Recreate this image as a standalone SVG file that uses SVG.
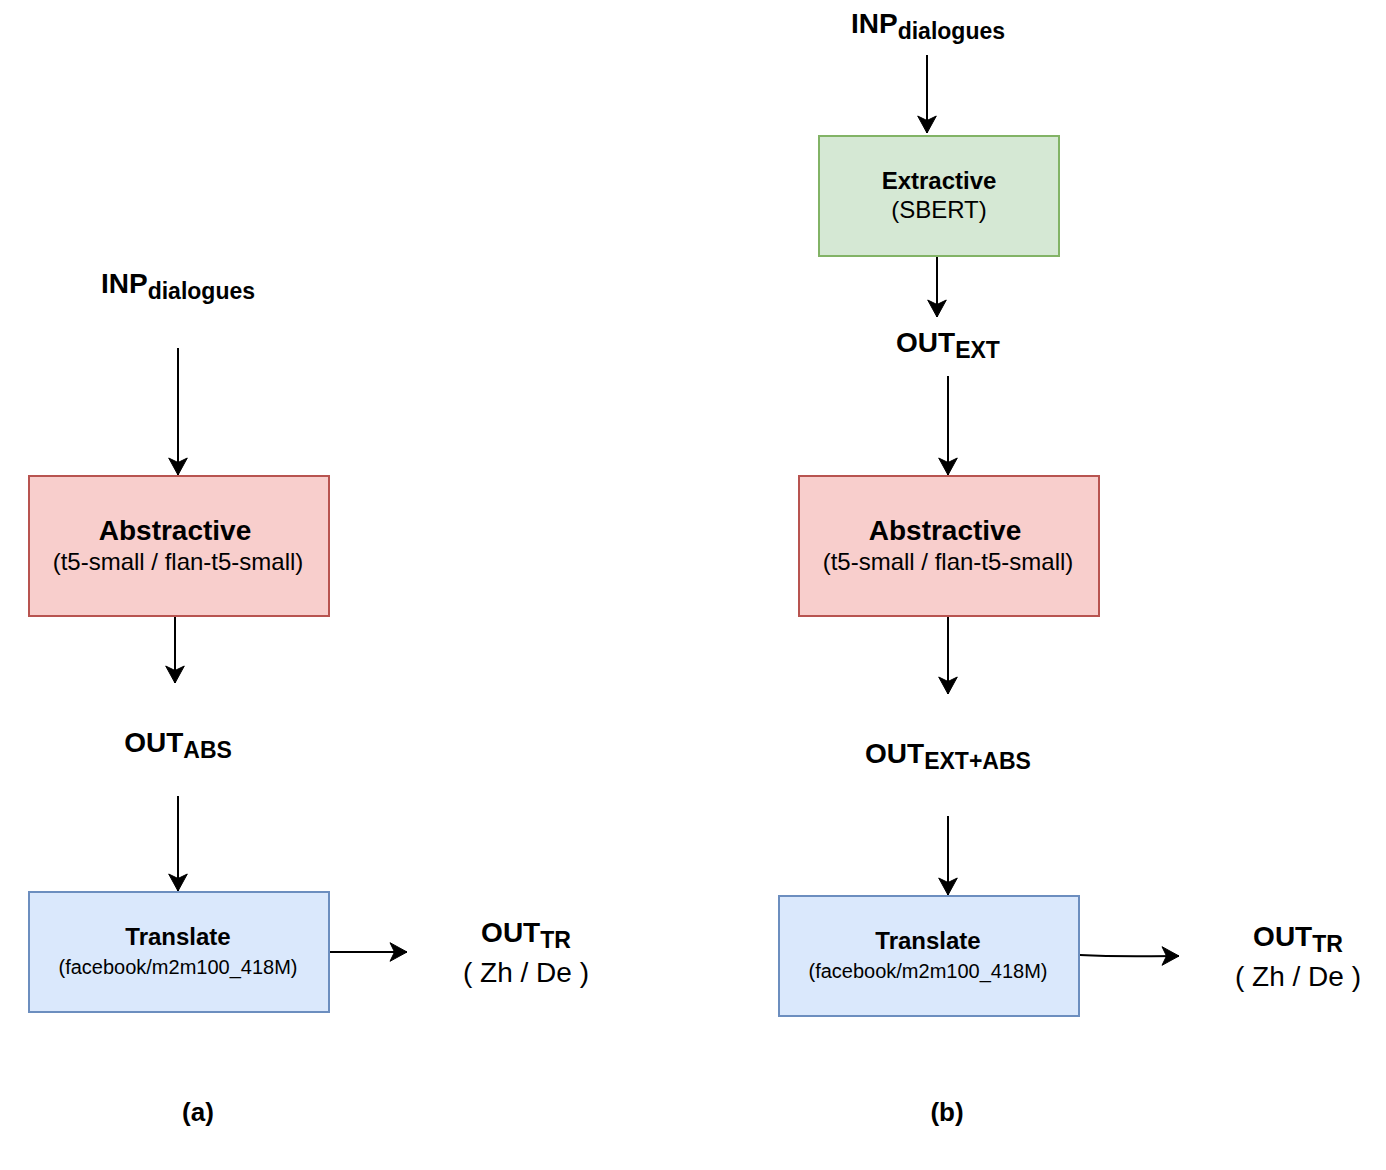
<svg xmlns="http://www.w3.org/2000/svg" width="1386" height="1170" viewBox="0 0 1386 1170">
<style>
.t{font-family:"Liberation Sans",Arial,Helvetica,sans-serif;fill:#000;text-anchor:middle}
.b{font-weight:bold}
.edge{fill:none;stroke:#000;stroke-width:2;marker-end:url(#arr)}
.red{fill:#f8cecc;stroke:#b85450;stroke-width:2}
.green{fill:#d5e8d4;stroke:#82b366;stroke-width:2}
.blue{fill:#dae8fc;stroke:#6c8ebf;stroke-width:2}
</style>
<defs>
<marker id="arr" markerUnits="userSpaceOnUse" markerWidth="22" markerHeight="22" viewBox="-1 -11 20 22" refX="17" refY="0" orient="auto">
<path d="M0,-9.3 L17,0 L0,9.3 L4.5,0 Z" fill="#000" stroke="#000" stroke-width="1"/>
</marker>
</defs>
<rect width="1386" height="1170" fill="#fff"/>
<g id="edges">
<path class="edge" d="M178,348 V475"/>
<path class="edge" d="M175,617 V683"/>
<path class="edge" d="M178,796 V891"/>
<path class="edge" d="M330,952 H407"/>
<path class="edge" d="M927,55 V133"/>
<path class="edge" d="M937,257 V317"/>
<path class="edge" d="M948,376 V475"/>
<path class="edge" d="M948,617 V694"/>
<path class="edge" d="M948,816 V895"/>
<path class="edge" d="M1080,955 C1120,957 1140,956 1179,956"/>
</g>
<g id="inp-a"><text class="t b" x="178" y="293" font-size="28">INP<tspan font-size="23" dy="6">dialogues</tspan></text></g>
<g id="abs-a">
<rect class="red" x="29" y="476" width="300" height="140"/>
<text class="t b" x="175" y="540" font-size="28">Abstractive</text>
<text class="t" x="178" y="570" font-size="24">(t5-small / flan-t5-small)</text>
</g>
<g id="outabs-a"><text class="t b" x="178" y="752" font-size="28">OUT<tspan font-size="23" dy="6">ABS</tspan></text></g>
<g id="tr-a">
<rect class="blue" x="29" y="892" width="300" height="120"/>
<text class="t b" x="178" y="945" font-size="24">Translate</text>
<text class="t" x="178" y="974" font-size="20">(facebook/m2m100_418M)</text>
</g>
<g id="outtr-a">
<text class="t b" x="526" y="942" font-size="28">OUT<tspan font-size="23" dy="6">TR</tspan></text>
<text class="t" x="526" y="982" font-size="28">( Zh / De )</text>
</g>
<g id="label-a"><text class="t b" x="198" y="1121" font-size="26">(a)</text></g>
<g id="inp-b"><text class="t b" x="928" y="33" font-size="28">INP<tspan font-size="23" dy="6">dialogues</tspan></text></g>
<g id="ext-b">
<rect class="green" x="819" y="136" width="240" height="120"/>
<text class="t b" x="939" y="189" font-size="24">Extractive</text>
<text class="t" x="939" y="218" font-size="24">(SBERT)</text>
</g>
<g id="outext-b"><text class="t b" x="948" y="352" font-size="28">OUT<tspan font-size="23" dy="6">EXT</tspan></text></g>
<g id="abs-b">
<rect class="red" x="799" y="476" width="300" height="140"/>
<text class="t b" x="945" y="540" font-size="28">Abstractive</text>
<text class="t" x="948" y="570" font-size="24">(t5-small / flan-t5-small)</text>
</g>
<g id="outextabs-b"><text class="t b" x="948" y="763" font-size="28">OUT<tspan font-size="23" dy="6">EXT+ABS</tspan></text></g>
<g id="tr-b">
<rect class="blue" x="779" y="896" width="300" height="120"/>
<text class="t b" x="928" y="949" font-size="24">Translate</text>
<text class="t" x="928" y="978" font-size="20">(facebook/m2m100_418M)</text>
</g>
<g id="outtr-b">
<text class="t b" x="1298" y="946" font-size="28">OUT<tspan font-size="23" dy="6">TR</tspan></text>
<text class="t" x="1298" y="986" font-size="28">( Zh / De )</text>
</g>
<g id="label-b"><text class="t b" x="947" y="1121" font-size="26">(b)</text></g>
</svg>
